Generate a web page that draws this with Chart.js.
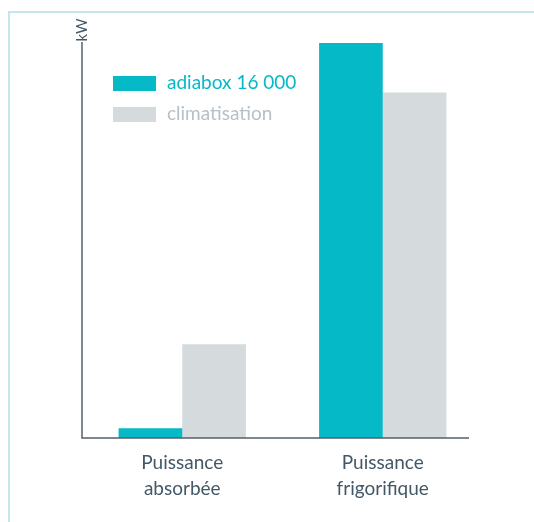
<!DOCTYPE html>
<html>
<head>
<meta charset="utf-8">
<script src="https://cdn.jsdelivr.net/npm/chart.js@4/dist/chart.umd.min.js"></script>
<style>
    body { margin: 0; background: #fff; }
    #wrap { position: relative; width: 534px; height: 522px; overflow: hidden; }
    #frame { position: absolute; left: 8px; top: 11px; width: 600px; height: 600px; border: 2px solid #c4e6f1; box-sizing: border-box; }
    #c1 { position: absolute; left: 0; top: 0; }
</style>
</head>
<body>
<div id="wrap">
    <div id="frame"></div>
    <canvas id="c1" width="534" height="522"></canvas>
</div>
<script>
const CATEGORIES = [['Puissance', 'absorbée'], ['Puissance', 'frigorifique']];
const SERIES = ['adiabox 16 000', 'climatisation'];
const ADIABOX = [0.4, 16];
const CLIM = [3.8, 14];
const UNIT = 'kW';

const TEAL = '#05b9c6';
const GREY = '#d5dadd';
const TEXT = '#435866';
const FONT = 'Lato';

// axes, unit label and legend are drawn by hand like the original
const decor = {
    id: 'decor',
    afterDatasetsDraw(chart){
        const ctx = chart.ctx;
        const a = chart.chartArea;
        ctx.save();
        ctx.strokeStyle = '#55606a';
        ctx.lineWidth = 1.5;
        ctx.beginPath();
        ctx.moveTo(a.left, a.top - 1);
        ctx.lineTo(a.left, a.bottom);
        ctx.lineTo(469, a.bottom);
        ctx.stroke();

        ctx.fillStyle = TEXT;
        ctx.font = '15px ' + FONT;
        ctx.translate(a.left, a.top - 13);
        ctx.rotate(-Math.PI / 2);
        ctx.textAlign = 'center';
        ctx.textBaseline = 'middle';
        ctx.fillText(UNIT, 0, 0);
        ctx.restore();

        ctx.save();
        ctx.font = '19px ' + FONT;
        ctx.textBaseline = 'middle';
        const textColors = [TEAL, '#b7c0c6'];
        chart.data.datasets.forEach((ds, i) => {
            const y = a.top + 40 + i * 31;
            ctx.fillStyle = ds.backgroundColor;
            ctx.fillRect(a.left + 31, y - 7, 43, 15);
            ctx.fillStyle = textColors[i];
            ctx.fillText(ds.label, a.left + 85, y);
        });
        ctx.restore();
    }
};

new Chart(document.getElementById('c1').getContext('2d'), {
    type: 'bar',
    data: {
        labels: CATEGORIES,
        datasets: [
            { label: SERIES[0], data: ADIABOX, backgroundColor: TEAL, borderWidth: 0 },
            { label: SERIES[1], data: CLIM, backgroundColor: GREY, borderWidth: 0 }
        ]
    },
    plugins: [decor],
    options: {
        responsive: false,
        animation: false,
        layout: { padding: { left: 82, top: 43, right: 51, bottom: 0 } },
        datasets: { bar: { categoryPercentage: 0.635, barPercentage: 1.0 } },
        plugins: { legend: { display: false }, tooltip: { enabled: false } },
        scales: {
            x: {
                grid: { display: false, drawTicks: false },
                border: { display: false },
                ticks: { color: TEXT, padding: 12, font: { family: FONT, size: 19, lineHeight: 1.37 } },
                afterFit: (scale) => { scale.height = 84; }
            },
            y: { display: false, min: 0, max: 16 }
        }
    }
});
</script>
</body>
</html>
